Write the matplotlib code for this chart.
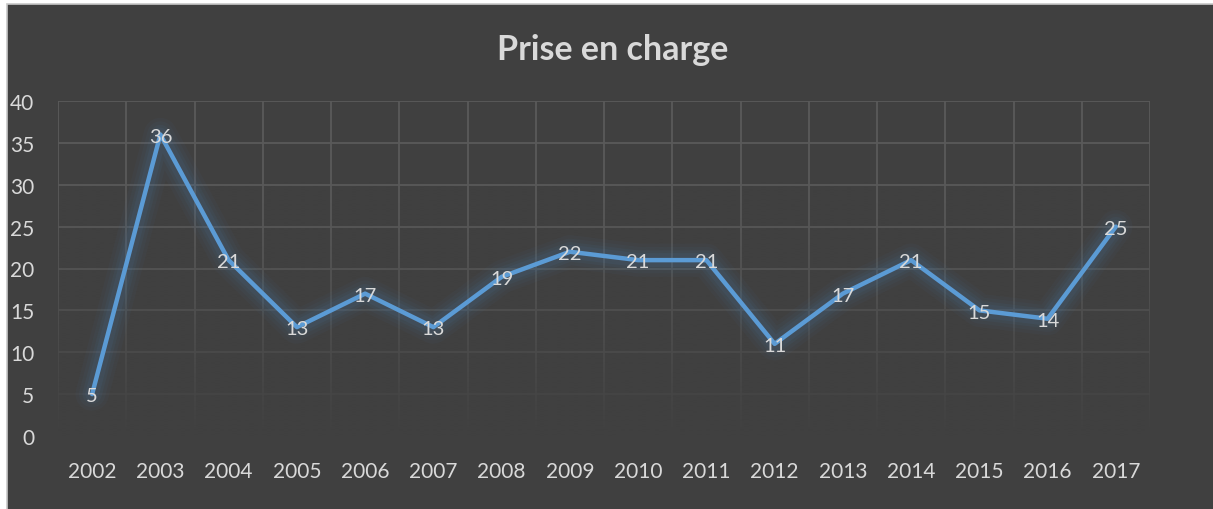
import numpy as np
import matplotlib.pyplot as plt
from matplotlib.patches import Rectangle

# data
years = ["2002", "2003", "2004", "2005", "2006", "2007", "2008", "2009",
         "2010", "2011", "2012", "2013", "2014", "2015", "2016", "2017"]
values = [5, 36, 21, 13, 17, 13, 19, 22, 21, 21, 11, 17, 21, 15, 14, 25]
title = "Prise en charge"

bg = "#404040"
line_color = "#5b9bd5"
text_color = "#d9d9d9"
grid_color = "#5a5a5a"

plt.rcParams['font.family'] = ['Lato', 'DejaVu Sans']

fig = plt.figure(figsize=(12.13, 5.10), dpi=100, facecolor="white")
# dark chart background with thin light border
bgax = fig.add_axes([0, 0, 1, 1], zorder=-10)
bgax.set_axis_off()
bgax.set_xlim(0, 1213)
bgax.set_ylim(510, 0)
bgax.add_patch(Rectangle((7, 5), 1213, 510, facecolor=bg,
                         edgecolor="#c8c8c8", linewidth=1.2))

ax = fig.add_axes([58 / 1213, 73 / 510, 1092 / 1213, 335 / 510], zorder=1)
ax.set_facecolor("none")
n = len(years)
x = np.arange(n)
ax.set_xlim(-0.5, n - 0.5)
ax.set_ylim(0, 40)

# grid
for yv in range(0, 41, 5):
    ax.plot([-0.5, n - 0.5], [yv, yv], color=grid_color, lw=1.3, zorder=1)
for b in np.arange(-0.5, n, 1.0):
    ax.plot([b, b], [0, 40], color=grid_color, lw=1.3, zorder=1)

# fade grid toward bottom
grad = np.zeros((200, 1, 4))
rgb = np.array([0x40, 0x40, 0x40]) / 255
grad[:, 0, :3] = rgb
grad[:, 0, 3] = np.clip(np.linspace(1.0, -0.3, 200), 0, 1) ** 1.3
ax.imshow(grad, extent=(-0.5, n - 0.5, 0, 40), aspect="auto",
          origin="lower", zorder=2, interpolation="bilinear")

# glow
glow = "#4a7aa8"
for lw, a in [(24, 0.05), (19, 0.06), (14, 0.08), (10, 0.10)]:
    ax.plot(x, values, color=glow, lw=lw, alpha=a,
            solid_joinstyle="round", solid_capstyle="round", zorder=3)
ax.plot(x, values, color=line_color, lw=3.2, solid_joinstyle="round",
        solid_capstyle="round", zorder=4)

for xi, v in zip(x, values):
    ax.text(xi, v - 0.2, str(v), ha="center", va="center", color=text_color,
            fontsize=14.5, zorder=5)

ax.set_xticks(x)
ax.set_xticklabels(years)
ax.set_yticks(range(0, 41, 5))
ax.tick_params(axis="both", length=0, colors=text_color, labelsize=15)
ax.tick_params(axis="x", pad=18)
ax.tick_params(axis="y", pad=17)
for s in ax.spines.values():
    s.set_visible(False)

fig.text(0.505, 1 - 50 / 510, title, ha="center", va="center",
         color=text_color, fontsize=24.5, fontweight="bold")

fig.savefig("out.png", dpi=100, facecolor=fig.get_facecolor())
